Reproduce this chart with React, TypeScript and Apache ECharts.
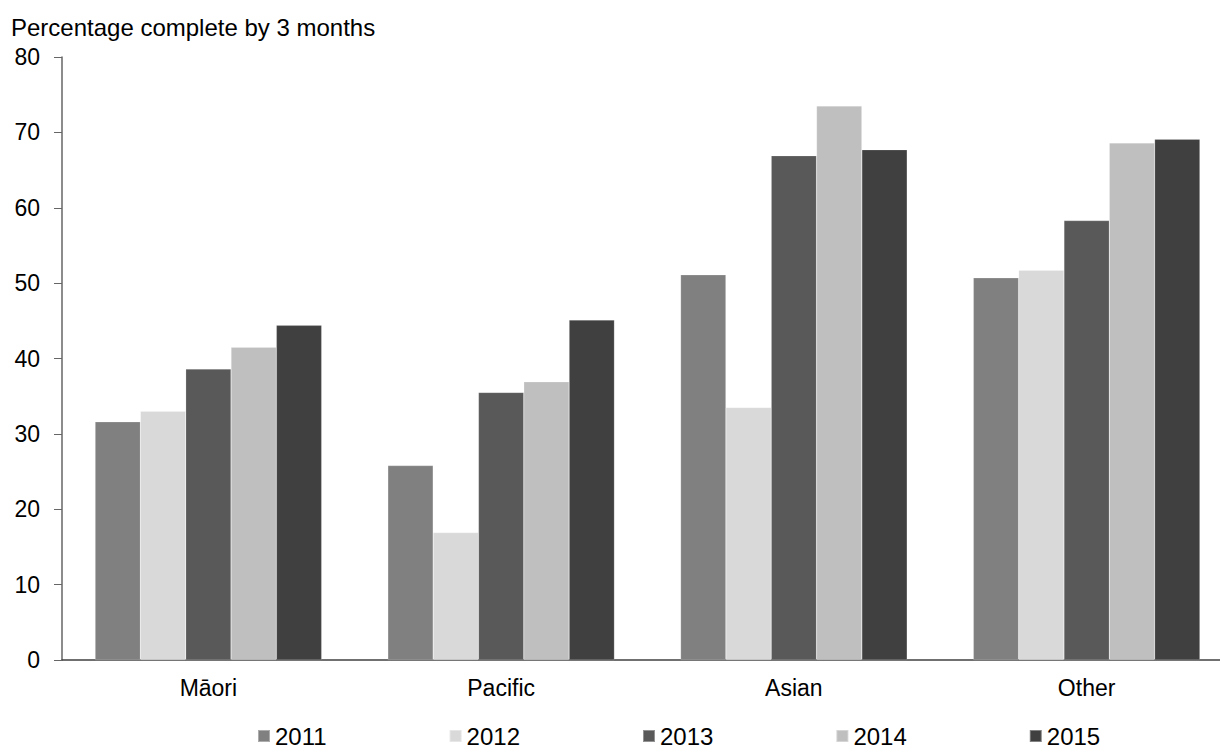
import React, { useEffect, useRef } from "react";
import * as echarts from "echarts";

const categories = ["Māori", "Pacific", "Asian", "Other"];
const years = ["2011", "2012", "2013", "2014", "2015"];
const colors = ["#808080", "#d9d9d9", "#595959", "#bfbfbf", "#404040"];
const v2011 = [31.6, 25.8, 51.1, 50.7];
const v2012 = [33.0, 16.9, 33.5, 51.7];
const v2013 = [38.6, 35.5, 66.9, 58.3];
const v2014 = [41.5, 36.9, 73.5, 68.6];
const v2015 = [44.4, 45.1, 67.7, 69.1];
const seriesValues = [v2011, v2012, v2013, v2014, v2015];
const yTicks = [0, 10, 20, 30, 40, 50, 60, 70, 80];

const FONT = "Liberation Sans, Arial, sans-serif";

export default function App() {
  const ref = useRef<HTMLDivElement>(null);
  useEffect(() => {
    if (!ref.current) return;
    const chart = echarts.init(ref.current, null, { renderer: "svg" });
    chart.setOption({
      animation: false,
      backgroundColor: "#ffffff",
      title: {
        text: "Percentage complete by 3 months",
        left: 6,
        top: 10,
        textStyle: { fontFamily: FONT, fontSize: 24, fontWeight: "normal", color: "#000" },
      },
      legend: {
        top: 719,
        left: 252,
        itemWidth: 12,
        itemHeight: 12,
        itemGap: 122,
        icon: "rect",
        data: years,
        textStyle: { fontFamily: FONT, fontSize: 24, color: "#000" },
      },
      grid: {
        left: 62,
        width: 1171,
        top: 57,
        bottom: 91,
        containLabel: false,
        outerBoundsMode: "none",
      },
      xAxis: {
        type: "category",
        data: categories,
        axisLine: { lineStyle: { color: "#404040", width: 1.5 } },
        axisTick: { show: false },
        axisLabel: { fontFamily: FONT, fontSize: 23, color: "#000", margin: 16 },
      },
      yAxis: {
        type: "value",
        min: yTicks[0],
        max: yTicks[yTicks.length - 1],
        interval: 10,
        splitLine: { show: false },
        axisLine: { show: true, lineStyle: { color: "#666666", width: 1.5 } },
        axisTick: { show: true, length: 8, lineStyle: { color: "#666666" } },
        axisLabel: { fontFamily: FONT, fontSize: 23, color: "#000", margin: 22 },
      },
      series: years.map((y, i) => ({
        name: y,
        type: "bar",
        data: seriesValues[i],
        barGap: "0%",
        barCategoryGap: "22.6%",
        itemStyle: { color: colors[i], borderColor: "rgba(255,255,255,0.35)", borderWidth: 0.5 },
      })),
    });
    return () => chart.dispose();
  }, []);
  return (
    <div
      ref={ref}
      style={{ position: "fixed", left: 0, top: 0, width: 1220, height: 751 }}
    />
  );
}
